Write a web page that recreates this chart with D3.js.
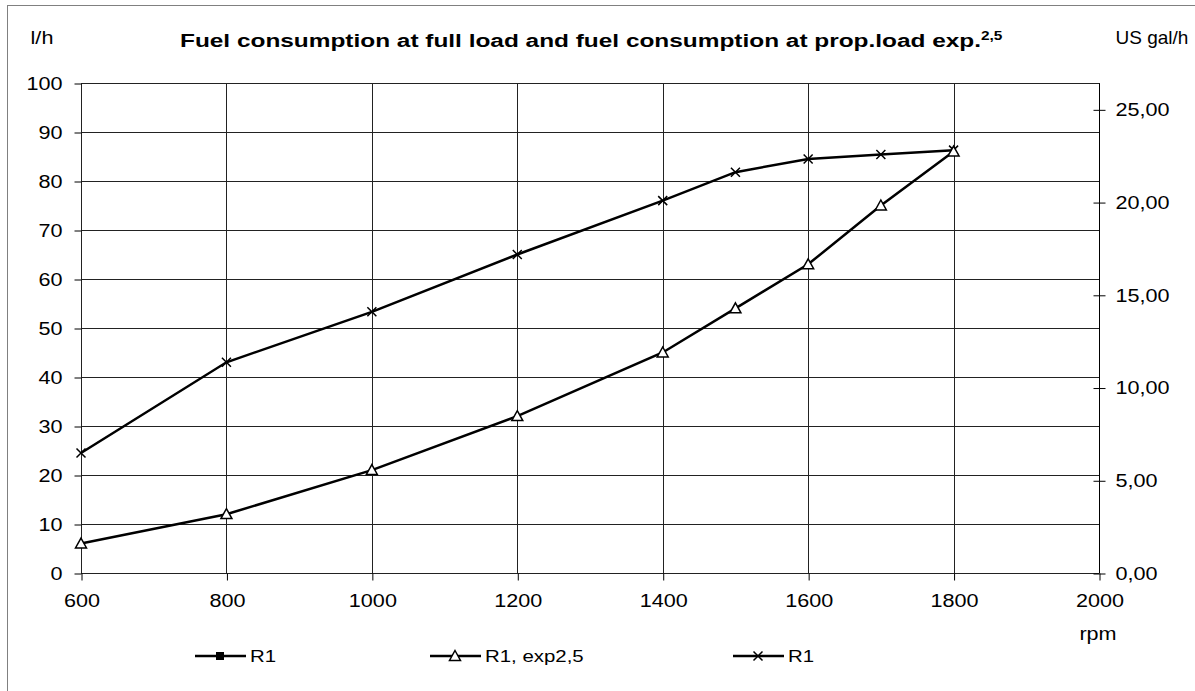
<!DOCTYPE html>
<html>
<head>
<meta charset="utf-8">
<script src="https://cdn.jsdelivr.net/npm/d3@7"></script>
<style>
  body { margin: 0; background: #fff; }
  text { font-family: "Liberation Sans", Arial, sans-serif; fill: #000; }
</style>
</head>
<body>
<svg width="1195" height="691"></svg>
<script>
(function (d3) {
  'use strict';

  // data
  var rpm = [600, 800, 1000, 1200, 1400, 1500, 1600, 1700, 1800];
  var fullLoad = [24.5, 43, 53.3, 65, 76, 81.8, 84.5, 85.4, 86.3];
  var propLoad = [6, 12, 21, 32, 45, 54, 63, 75, 86];
  var xTicks = [600, 800, 1000, 1200, 1400, 1600, 1800, 2000];
  var yTicks = [0, 10, 20, 30, 40, 50, 60, 70, 80, 90, 100];
  var galTicks = [0, 5, 10, 15, 20, 25];
  var legendNames = ['R1', 'R1, exp2,5', 'R1'];
  var LITRES_PER_GAL = 3.785;

  var svg = d3.select('svg');
  var left = 81, right = 1099, top = 83, bottom = 573;
  var FS = '18px';
  var STRETCH = 1.2; // the original lettering is a bit wider than it is tall

  function stretch(sel, k) {
    sel.each(function () {
      var w = this.getComputedTextLength();
      d3.select(this).attr('textLength', w * k).attr('lengthAdjust', 'spacingAndGlyphs');
    });
  }

  var x = d3.scaleLinear().domain([600, 2000]).range([left, right]);
  var y = d3.scaleLinear().domain([0, 100]).range([bottom, top]);
  var yGal = d3.scaleLinear().domain([0, 100 / LITRES_PER_GAL]).range([bottom, top]);

  // outer frame
  svg.append('rect')
    .attr('x', 7.5).attr('y', 5.5).attr('width', 1200).attr('height', 700)
    .attr('fill', 'none').attr('stroke', '#808080').attr('stroke-width', 1);

  // grid
  var grid = svg.append('g').attr('stroke', '#222').attr('stroke-width', 1);
  grid.selectAll('.h').data(yTicks).enter().append('line')
    .attr('x1', left).attr('x2', right)
    .attr('y1', function (d) { return Math.round(y(d)) + 0.5; })
    .attr('y2', function (d) { return Math.round(y(d)) + 0.5; });
  grid.selectAll('.v').data(xTicks).enter().append('line')
    .attr('y1', top).attr('y2', bottom)
    .attr('x1', function (d) { return Math.round(x(d)) + 0.5; })
    .attr('x2', function (d) { return Math.round(x(d)) + 0.5; });

  // left axis
  var yAxis = d3.axisLeft(y).tickValues(yTicks).tickSize(7).tickPadding(12);
  var gy = svg.append('g').attr('transform', 'translate(' + (left + 0.5) + ',0.5)').call(yAxis);
  gy.select('.domain').remove();
  gy.selectAll('text').style('font-size', FS).call(stretch, STRETCH);

  // x axis
  var xAxis = d3.axisBottom(x).tickValues(xTicks).tickSize(7).tickPadding(14)
    .tickFormat(d3.format('d'));
  var gx = svg.append('g').attr('transform', 'translate(0.5,' + (bottom + 0.5) + ')').call(xAxis);
  gx.select('.domain').remove();
  gx.selectAll('text').style('font-size', FS).call(stretch, STRETCH);

  // right axis
  var rAxis = d3.axisRight(yGal).tickValues(galTicks).tickSize(6).tickPadding(10)
    .tickFormat(function (d) { return d3.format('.2f')(d).replace('.', ','); });
  var gr = svg.append('g').attr('transform', 'translate(' + (right + 0.5) + ',0.5)').call(rAxis);
  gr.select('.domain').attr('d', 'M0,' + top + 'V' + bottom);
  gr.selectAll('.tick line').attr('x1', -6);
  gr.selectAll('text').style('font-size', FS).call(stretch, STRETCH);

  // labels
  svg.append('text').attr('x', 42).attr('y', 44).attr('text-anchor', 'middle')
    .style('font-size', FS).text('l/h').call(stretch, STRETCH);
  svg.append('text').attr('x', 1152).attr('y', 44).attr('text-anchor', 'middle')
    .style('font-size', '19px').text('US gal/h');
  svg.append('text').attr('x', 1098).attr('y', 640).attr('text-anchor', 'middle')
    .style('font-size', FS).text('rpm').call(stretch, STRETCH);

  var title = svg.append('text').attr('x', 0).attr('y', 0)
    .style('font-size', '19px').style('font-weight', 'bold');
  title.append('tspan').text('Fuel consumption at full load and fuel consumption at prop.load exp.');
  title.append('tspan').attr('dy', -7).style('font-size', '12px').text('2,5');
  var tw = title.node().getComputedTextLength();
  var titleLeft = 180, titleRight = 1003;
  title.attr('transform', 'translate(' + titleLeft + ',47) scale(' + ((titleRight - titleLeft) / tw) + ',1)');

  var line = d3.line()
    .x(function (d) { return x(d[0]); })
    .y(function (d) { return y(d[1]); });

  var fullPts = rpm.map(function (r, i) { return [r, fullLoad[i]]; });
  var propPts = rpm.map(function (r, i) { return [r, propLoad[i]]; });

  function drawX(g, cx, cy) {
    var s = 4.5;
    g.append('path')
      .attr('d', 'M' + (cx - s) + ',' + (cy - s) + 'L' + (cx + s) + ',' + (cy + s) +
        'M' + (cx - s) + ',' + (cy + s) + 'L' + (cx + s) + ',' + (cy - s))
      .attr('stroke', '#000').attr('stroke-width', 1.5).attr('fill', 'none');
  }
  function drawTri(g, cx, cy) {
    var s = 5.5;
    g.append('path')
      .attr('d', 'M' + cx + ',' + (cy - s) + 'L' + (cx + s) + ',' + (cy + s * 0.8) +
        'L' + (cx - s) + ',' + (cy + s * 0.8) + 'Z')
      .attr('stroke', '#000').attr('stroke-width', 1.5).attr('fill', '#fff');
  }

  svg.append('path').datum(fullPts).attr('d', line)
    .attr('fill', 'none').attr('stroke', '#000').attr('stroke-width', 2.5);
  svg.append('path').datum(propPts).attr('d', line)
    .attr('fill', 'none').attr('stroke', '#000').attr('stroke-width', 2.5);

  var marks = svg.append('g');
  fullPts.forEach(function (p) { drawX(marks, x(p[0]), y(p[1])); });
  propPts.forEach(function (p) { drawTri(marks, x(p[0]), y(p[1])); });

  // legend
  var legX = [195, 430, 733];
  var legY = 656;
  legendNames.forEach(function (name, i) {
    var g = svg.append('g');
    g.append('line').attr('x1', legX[i]).attr('x2', legX[i] + 51)
      .attr('y1', legY).attr('y2', legY).attr('stroke', '#000').attr('stroke-width', 2.5);
    var cx = legX[i] + 25;
    if (i === 0) {
      g.append('rect').attr('x', cx - 4).attr('y', legY - 4).attr('width', 8).attr('height', 8).attr('fill', '#000');
    } else if (i === 1) {
      drawTri(g, cx, legY);
    } else {
      drawX(g, cx, legY);
    }
    g.append('text').attr('x', legX[i] + 55).attr('y', legY + 6)
      .style('font-size', '17px').text(name).call(stretch, STRETCH);
  });

}(d3));
</script>
</body>
</html>
